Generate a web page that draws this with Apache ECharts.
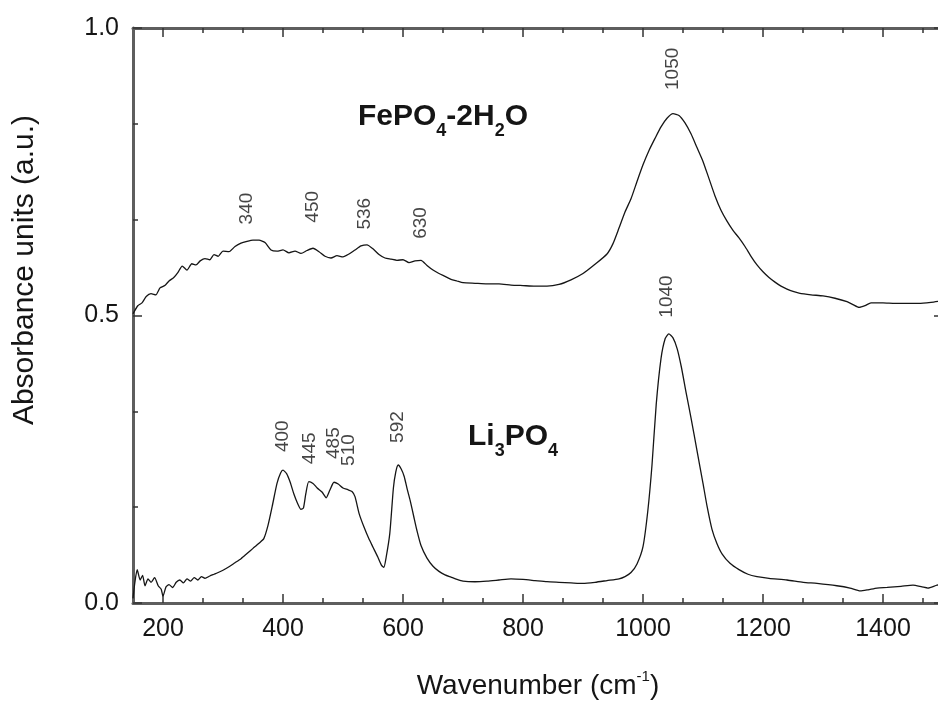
<!DOCTYPE html>
<html>
<head>
<meta charset="utf-8">
<title>Absorbance spectra: FePO4·2H2O and Li3PO4</title>
<script src="https://cdn.jsdelivr.net/npm/echarts@6/dist/echarts.min.js"></script>
<style>
  html, body { margin: 0; padding: 0; background: #ffffff; }
  #chart { width: 938px; height: 702px; }
</style>
</head>
<body>
<div id="chart"></div>
<script>
// Wavenumber (cm^-1), absorbance (a.u.) pairs for the upper spectrum
const fePO4Spectrum = [
  [150,0.503],[158,0.517],[165,0.522],[172,0.533],[180,0.538],[188,0.536],[195,0.548],
  [203,0.552],[210,0.560],[218,0.566],[225,0.575],[232,0.586],[240,0.579],[248,0.590],
  [255,0.588],[262,0.595],[270,0.599],[278,0.597],[285,0.606],[292,0.603],[300,0.612],
  [310,0.611],[320,0.620],[330,0.626],[340,0.629],[350,0.631],[360,0.631],[370,0.627],
  [380,0.614],[390,0.612],[400,0.614],[410,0.609],[420,0.612],[430,0.608],[440,0.613],
  [450,0.617],[460,0.611],[470,0.603],[480,0.600],[490,0.604],[500,0.602],[510,0.607],
  [520,0.614],[530,0.621],[540,0.623],[550,0.616],[560,0.606],[570,0.600],[580,0.598],
  [590,0.596],[600,0.597],[610,0.592],[620,0.595],[630,0.596],[640,0.587],[650,0.579],
  [660,0.573],[670,0.568],[680,0.563],[690,0.560],[700,0.557],[720,0.556],[740,0.555],
  [760,0.555],[780,0.553],[800,0.552],[820,0.551],[840,0.551],[860,0.554],[880,0.562],
  [900,0.573],[920,0.589],[940,0.607],[950,0.625],[960,0.652],[970,0.680],[980,0.703],
  [990,0.733],[1000,0.762],[1010,0.787],[1020,0.808],[1030,0.828],[1040,0.843],[1050,0.851],
  [1060,0.848],[1070,0.835],[1080,0.816],[1090,0.792],[1100,0.768],[1110,0.738],[1120,0.708],
  [1130,0.683],[1140,0.664],[1150,0.648],[1160,0.635],[1170,0.620],[1180,0.603],[1190,0.588],
  [1200,0.576],[1210,0.566],[1220,0.558],[1230,0.551],[1240,0.546],[1250,0.542],[1260,0.539],
  [1280,0.536],[1300,0.534],[1320,0.530],[1340,0.524],[1350,0.519],[1360,0.514],[1370,0.517],
  [1380,0.522],[1400,0.522],[1420,0.521],[1440,0.521],[1460,0.521],[1480,0.523],[1500,0.526]
];

// Wavenumber (cm^-1), absorbance (a.u.) pairs for the lower spectrum
const li3PO4Spectrum = [
  [150,0.008],[153,0.035],[157,0.058],[162,0.040],[166,0.048],[170,0.030],[175,0.042],
  [180,0.036],[186,0.044],[192,0.030],[197,0.024],[200,0.012],[205,0.028],[210,0.032],
  [216,0.027],[222,0.036],[228,0.040],[234,0.035],[240,0.042],[246,0.038],[252,0.044],
  [258,0.040],[264,0.046],[270,0.043],[278,0.047],[285,0.050],[292,0.053],[300,0.057],
  [310,0.063],[320,0.070],[330,0.077],[340,0.086],[350,0.095],[360,0.104],[368,0.112],
  [375,0.135],[382,0.168],[390,0.208],[396,0.226],[400,0.231],[406,0.225],[412,0.210],
  [418,0.190],[424,0.174],[430,0.163],[434,0.165],[438,0.190],[443,0.211],[450,0.208],
  [457,0.200],[465,0.193],[472,0.183],[478,0.196],[485,0.210],[492,0.207],[500,0.200],
  [508,0.197],[515,0.194],[520,0.185],[527,0.155],[535,0.132],[543,0.112],[550,0.097],
  [558,0.080],[564,0.066],[568,0.062],[572,0.080],[578,0.121],[584,0.200],[588,0.228],
  [592,0.240],[597,0.233],[602,0.220],[607,0.198],[612,0.178],[618,0.150],[623,0.127],
  [630,0.100],[640,0.078],[650,0.064],[660,0.055],[670,0.049],[680,0.045],[690,0.041],
  [700,0.038],[720,0.037],[740,0.038],[760,0.040],[780,0.042],[800,0.041],[820,0.039],
  [840,0.037],[860,0.036],[880,0.035],[900,0.034],[920,0.036],[940,0.039],[960,0.042],
  [970,0.046],[980,0.053],[990,0.068],[1000,0.098],[1008,0.160],[1015,0.240],[1022,0.345],
  [1030,0.425],[1037,0.460],[1043,0.468],[1050,0.461],[1057,0.442],[1064,0.410],[1072,0.365],
  [1080,0.322],[1090,0.265],[1100,0.208],[1107,0.167],[1115,0.128],[1123,0.104],[1132,0.085],
  [1145,0.069],[1160,0.058],[1175,0.050],[1190,0.046],[1210,0.043],[1240,0.040],[1267,0.036],
  [1290,0.034],[1323,0.030],[1345,0.026],[1362,0.021],[1375,0.023],[1390,0.026],[1407,0.027],
  [1430,0.029],[1450,0.031],[1465,0.028],[1475,0.026],[1490,0.031],[1500,0.032]
];

// Band assignments: [wavenumber, height of the annotation]
const fePO4Bands = [[340,0.686],[450,0.689],[536,0.677],[630,0.661],[1050,0.929]];
const li3PO4Bands = [[400,0.290],[445,0.269],[485,0.278],[510,0.266],[592,0.306],[1040,0.533]];

// Axis ticks
const xMajorTicks = [200, 400, 600, 800, 1000, 1200, 1400];
const yMajorTicks = [0.0, 0.5, 1.0];

const X_MIN = 150, X_MAX = 1500;
const xMinorTicks = [];
xMajorTicks.forEach(function (m) {
  [m - 400 / 3, m - 200 / 3, m + 200 / 3, m + 400 / 3].forEach(function (v) {
    const r = Math.round(v * 1000) / 1000;
    if (r > X_MIN && r < X_MAX && xMinorTicks.indexOf(r) < 0 && xMajorTicks.indexOf(r) < 0) xMinorTicks.push(r);
  });
});
xMinorTicks.sort(function (a, b) { return a - b; });

const FONT = '"Liberation Sans", Arial, Helvetica, sans-serif';
const INK = '#151515';
const AXIS_GRAY = '#5e5e5e';

function xAxisBase(position, ticks, tickLen, showLine, showLabels) {
  return {
    type: 'value', position: position, min: X_MIN, max: X_MAX,
    splitLine: { show: false },
    axisLine: { show: showLine, onZero: false, lineStyle: { color: AXIS_GRAY, width: 3 } },
    axisTick: { show: true, inside: true, length: tickLen, customValues: ticks,
                lineStyle: { color: '#333', width: 1.5 } },
    axisLabel: showLabels
      ? { show: true, customValues: ticks, margin: 14, color: INK, fontSize: 25, fontFamily: FONT,
          formatter: function (v) { return String(Math.round(v)); } }
      : { show: false }
  };
}

function yAxisBase(position, showLabels) {
  return {
    type: 'value', position: position, min: 0, max: 1, interval: 0.5,
    splitLine: { show: false },
    axisLine: { show: true, onZero: false, lineStyle: { color: AXIS_GRAY, width: 3 } },
    axisTick: { show: true, inside: true, length: 9, lineStyle: { color: '#333', width: 1.5 } },
    minorTick: { show: true, splitNumber: 3, length: 5, lineStyle: { color: '#333', width: 1.5 } },
    axisLabel: showLabels
      ? { show: true, margin: 14, color: INK, fontSize: 25, fontFamily: FONT,
          formatter: function (v) { return v.toFixed(1); } }
      : { show: false }
  };
}

const xBottom = xAxisBase('bottom', xMajorTicks, 9, true, true);
xBottom.name = '{t|Wavenumber (cm}{s|-1}{t|)}';
xBottom.nameLocation = 'middle';
xBottom.nameGap = 66;
xBottom.nameTextStyle = {
  rich: {
    t: { fontSize: 28, fontFamily: FONT, color: INK, lineHeight: 34, verticalAlign: 'middle' },
    s: { fontSize: 15, fontFamily: FONT, color: INK, lineHeight: 16, verticalAlign: 'top' }
  }
};

function bandSeries(name, bands) {
  return {
    name: name, type: 'scatter', xAxisIndex: 0, yAxisIndex: 0,
    symbolSize: 0, silent: true, z: 5,
    data: bands,
    label: {
      show: true, position: 'inside', rotate: 90,
      color: INK, fontSize: 19, fontFamily: FONT,
      formatter: function (p) { return String(p.value[0]); }
    }
  };
}

const chart = echarts.init(document.getElementById('chart'), null, { renderer: 'canvas' });

chart.setOption({
  backgroundColor: '#ffffff',
  animation: false,
  grid: { left: 133, top: 28, right: -5, bottom: 99, containLabel: false, outerBoundsMode: 'none' },
  xAxis: [
    xBottom,
    xAxisBase('bottom', xMinorTicks, 5, false, false),
    xAxisBase('top', xMajorTicks, 9, true, false),
    xAxisBase('top', xMinorTicks, 5, false, false)
  ],
  yAxis: [
    yAxisBase('left', true),
    yAxisBase('right', false)
  ],
  series: [
    {
      name: 'FePO4·2H2O', type: 'line', xAxisIndex: 0, yAxisIndex: 0,
      data: fePO4Spectrum, showSymbol: false, smooth: 0.2,
      lineStyle: { color: INK, width: 1.3 }
    },
    {
      name: 'Li3PO4', type: 'line', xAxisIndex: 0, yAxisIndex: 0,
      data: li3PO4Spectrum, showSymbol: false, smooth: 0.2,
      lineStyle: { color: INK, width: 1.3 }
    },
    bandSeries('FePO4 bands', fePO4Bands),
    bandSeries('Li3PO4 bands', li3PO4Bands)
  ],
  graphic: [
    {
      type: 'text', x: 25, y: 270, rotation: Math.PI / 2,
      style: {
        text: 'Absorbance units (a.u.)', fill: INK,
        font: '30px ' + FONT, textAlign: 'center', textVerticalAlign: 'middle'
      }
    },
    {
      type: 'text', x: 358, y: 94,
      style: {
        text: '{m|FePO}{b|4}{m|-2H}{b|2}{m|O}',
        textVerticalAlign: 'top', textAlign: 'left',
        rich: {
          m: { fontSize: 30, fontWeight: 'bold', fontFamily: FONT, fill: INK, lineHeight: 46, verticalAlign: 'middle' },
          b: { fontSize: 18, fontWeight: 'bold', fontFamily: FONT, fill: INK, lineHeight: 18, verticalAlign: 'bottom' }
        }
      }
    },
    {
      type: 'text', x: 468, y: 414,
      style: {
        text: '{m|Li}{b|3}{m|PO}{b|4}',
        textVerticalAlign: 'top', textAlign: 'left',
        rich: {
          m: { fontSize: 30, fontWeight: 'bold', fontFamily: FONT, fill: INK, lineHeight: 46, verticalAlign: 'middle' },
          b: { fontSize: 18, fontWeight: 'bold', fontFamily: FONT, fill: INK, lineHeight: 18, verticalAlign: 'bottom' }
        }
      }
    }
  ]
});
</script>
</body>
</html>
